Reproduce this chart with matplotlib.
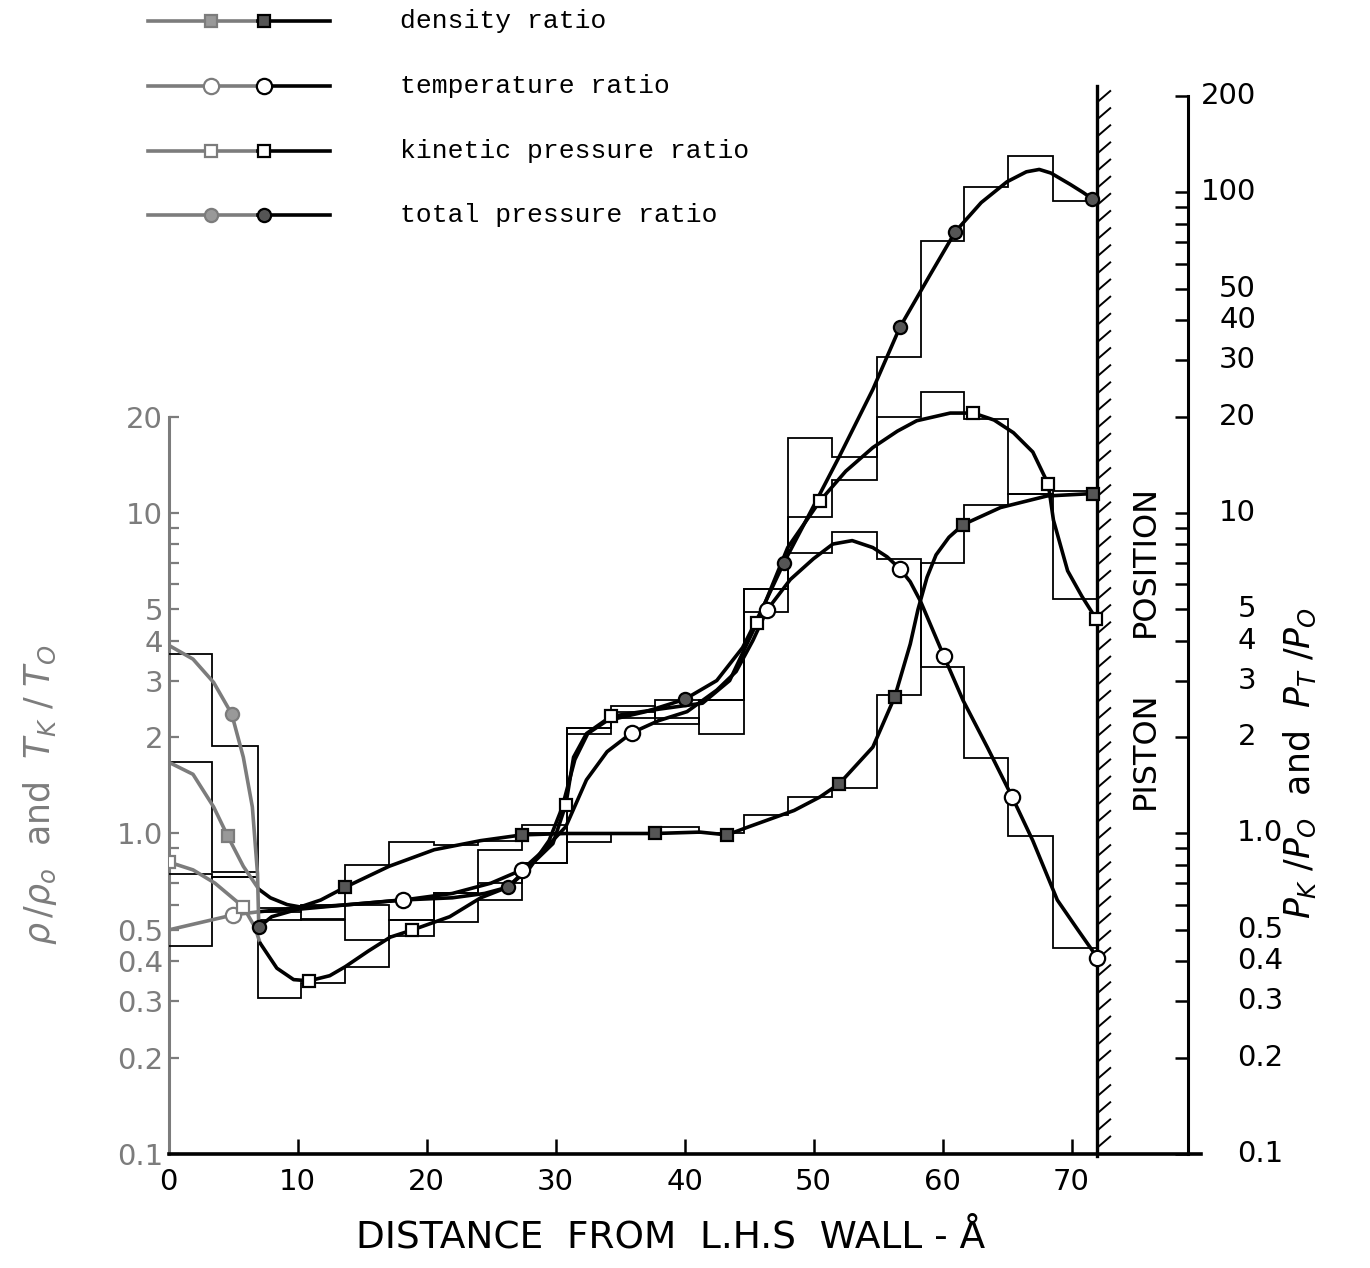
"""
Piston compression profiles: density, temperature and pressure ratios
against distance from the left-hand wall (log scale, step histograms + fitted curves)
"""
import matplotlib
matplotlib.use('Agg')
import matplotlib.pyplot as plt
import numpy as np
from matplotlib.lines import Line2D
from matplotlib.ticker import NullFormatter, NullLocator
from matplotlib.transforms import blended_transform_factory

# ---- data ---------------------------------------------------------------
bin_edges = [0, 3.4, 6.9, 10.3, 13.7, 17.1, 20.6, 24.0, 27.4, 30.9, 34.3,
             37.7, 41.1, 44.6, 48.0, 51.4, 54.9, 58.3, 61.7, 65.1, 68.6, 72.0]

density_hist = [1.67, 0.76, 0.57, 0.60, 0.80, 0.94, 0.92, 0.95, 1.06, 0.94, 1.0,
                1.05, 1.0, 1.14, 1.30, 1.39, 2.7, 7.0, 10.6, 11.5, 11.7]
temp_hist = [0.446, 0.73, 0.537, 0.54, 0.60, 0.537, 0.65, 0.70, 0.81, 2.13, 2.4,
             2.2, 2.6, 5.8, 7.5, 8.7, 7.2, 3.3, 1.72, 0.98, 0.44]
kinetic_hist = [0.75, 0.73, 0.307, 0.341, 0.384, 0.48, 0.53, 0.62, 0.81, 2.05, 2.5,
                2.3, 2.05, 4.9, 9.7, 12.7, 20.0, 23.8, 19.7, 11.5, 5.4]
total_hist = [3.63, 1.88, 0.585, 0.537, 0.465, 0.537, 0.65, 0.89, 1.0, 2.13, 2.3,
              2.6, 2.6, 5.8, 17.1, 14.9, 30.7, 70.4, 104, 130, 94]

density_x = [0, 1.9, 3.5, 4.6, 5.8, 7.0, 7.9, 9.2, 10.2, 11.8, 13.7, 17.1, 20.6,
             24.2, 27.4, 30.8, 34.3, 37.7, 41.2, 43.3, 45.0, 48.5, 50.5, 52.0,
             54.6, 56.3, 57.5, 58.1, 58.8, 59.5, 60.5, 61.6, 64.5, 68.1, 71.7]
density_y = [1.67, 1.53, 1.21, 0.98, 0.79, 0.67, 0.63, 0.60, 0.59, 0.62, 0.68, 0.79,
             0.89, 0.95, 0.99, 1.0, 1.0, 1.0, 1.01, 0.99, 1.05, 1.18, 1.3, 1.43,
             1.86, 2.67, 3.9, 5.0, 6.3, 7.4, 8.4, 9.2, 10.4, 11.3, 11.5]

temp_x = [0, 5.0, 7.0, 10.0, 14.0, 18.2, 22.0, 25.0, 27.4, 29.0, 30.8, 32.4, 34.0,
          35.9, 38.0, 40.2, 42.5, 44.0, 45.3, 46.4, 48.2, 50.0, 51.5, 53.0, 54.6,
          55.7, 56.7, 57.5, 58.3, 60.1, 61.6, 63.5, 65.4, 67.0, 68.9, 70.5, 72.0]
temp_y = [0.50, 0.557, 0.57, 0.585, 0.60, 0.62, 0.65, 0.70, 0.77, 0.88, 1.05, 1.47,
          1.8, 2.06, 2.25, 2.4, 2.8, 3.2, 4.0, 4.98, 6.2, 7.2, 8.0, 8.2, 7.8,
          7.3, 6.7, 6.1, 5.3, 3.58, 2.6, 1.85, 1.30, 0.95, 0.62, 0.50, 0.41]

kinetic_x = [0, 1.9, 3.6, 5.8, 6.7, 7.1, 8.4, 9.7, 10.9, 12.5, 13.7, 15.5, 17.2,
             18.9, 21.8, 24.2, 26.3, 27.4, 28.8, 29.8, 30.8, 31.4, 32.4, 34.3,
             37.6, 41.4, 43.5, 45.6, 48.0, 50.5, 52.5, 54.6, 56.5, 58.0, 60.6,
             62.4, 64.0, 65.5, 67.0, 68.2, 68.6, 69.7, 70.8, 71.9]
kinetic_y = [0.815, 0.77, 0.70, 0.59, 0.51, 0.455, 0.38, 0.35, 0.347, 0.36, 0.384,
             0.43, 0.475, 0.50, 0.55, 0.63, 0.68, 0.75, 0.85, 0.93, 1.23, 1.73,
             2.05, 2.32, 2.43, 2.55, 3.0, 4.53, 7.8, 10.9, 13.5, 16.0, 18.0, 19.4,
             20.5, 20.5, 19.5, 17.8, 15.5, 12.3, 9.5, 6.6, 5.5, 4.68]

total_x = [0, 1.9, 3.5, 4.9, 5.8, 6.5, 6.9, 7.0, 8.0, 10.0, 14.0, 18.0, 22.0, 24.5,
           26.3, 28.0, 29.5, 30.5, 31.5, 32.5, 34.0, 37.0, 40.0, 42.5, 44.5, 46.0,
           47.7, 50.0, 52.0, 54.6, 56.7, 59.0, 61.0, 63.0, 65.0, 66.5, 67.5, 68.4,
           69.9, 70.9, 71.6]
total_y = [3.87, 3.5, 2.96, 2.36, 1.73, 1.21, 0.75, 0.51, 0.55, 0.58, 0.60, 0.62,
           0.63, 0.65, 0.68, 0.78, 0.95, 1.2, 1.7, 2.05, 2.25, 2.4, 2.62, 3.0, 3.8,
           5.0, 6.99, 10.5, 15.0, 24.3, 38.0, 55.0, 75.5, 93, 108, 116, 118, 115,
           106, 100, 95.6]

density_mx = [4.6, 13.7, 27.4, 37.7, 43.3, 52.0, 56.3, 61.6, 71.7]
density_my = [0.98, 0.68, 0.99, 1.0, 0.99, 1.43, 2.67, 9.2, 11.5]
temp_mx = [5.0, 18.2, 27.4, 35.9, 46.4, 56.7, 60.1, 65.4, 72.0]
temp_my = [0.557, 0.62, 0.77, 2.06, 4.98, 6.7, 3.58, 1.30, 0.41]
kinetic_mx = [0, 5.8, 10.9, 18.9, 30.8, 34.3, 45.6, 50.5, 62.4, 68.2, 71.9]
kinetic_my = [0.815, 0.59, 0.347, 0.50, 1.23, 2.32, 4.53, 10.9, 20.5, 12.3, 4.68]
total_mx = [4.9, 7.0, 26.3, 40.0, 47.7, 56.7, 61.0, 71.6]
total_my = [2.36, 0.51, 0.68, 2.62, 6.99, 38.0, 75.5, 95.6]

x_ticks = [0, 10, 20, 30, 40, 50, 60, 70]
left_major = [0.1, 0.2, 0.3, 0.4, 0.5, 1, 2, 3, 4, 5, 10, 20]
left_labels = ['0.1', '0.2', '0.3', '0.4', '0.5', '1.0', '2', '3', '4', '5', '10', '20']
left_minor = [0.6, 0.7, 0.8, 0.9, 6, 7, 8, 9]
right_major = [0.1, 0.2, 0.3, 0.4, 0.5, 1, 2, 3, 4, 5, 10, 20, 30, 40, 50, 100, 200]
right_labels = ['0.1', '0.2', '0.3', '0.4', '0.5', '1.0', '2', '3', '4', '5', '10',
                '20', '30', '40', '50', '100', '200']
right_minor = [0.6, 0.7, 0.8, 0.9, 6, 7, 8, 9, 60, 70, 80, 90]

legend_labels = ['density ratio', 'temperature ratio',
                 'kinetic pressure ratio', 'total pressure ratio']

# ---- style -----------------------------------------------------------------
GRAY = '#7c7c7c'
SPLIT = 7.0          # curves are drawn grey left of this, black after
WALL = 72.0
W, H = 1370, 1268


def fx(px):
    return px / W


def fy(py):
    return 1 - py / H


STYLES = {
    'density': dict(marker='s', ms=8, filled=True),
    'temp': dict(marker='o', ms=11, filled=False),
    'kinetic': dict(marker='s', ms=8, filled=False),
    'total': dict(marker='o', ms=9.5, filled=True),
}


def marker_kw(style, col):
    face = ('#555555' if col == 'k' else '#999999') if style['filled'] else 'white'
    return dict(marker=style['marker'], ms=style['ms'], mfc=face, mec=col, mew=1.6,
                ls='none')


def draw_curve(ax, xs, ys, mx, my, style):
    xs = np.asarray(xs, float)
    ys = np.asarray(ys, float)
    k = int(np.argmax(xs >= SPLIT))
    ax.plot(xs[:k + 1], ys[:k + 1], color=GRAY, lw=2.6, zorder=4,
            solid_capstyle='round', solid_joinstyle='round')
    ax.plot(xs[k:], ys[k:], color='k', lw=2.6, zorder=4, solid_capstyle='round',
            solid_joinstyle='round')
    mx = np.asarray(mx, float)
    my = np.asarray(my, float)
    g = mx < SPLIT
    ax.plot(mx[g], my[g], zorder=6, **marker_kw(style, GRAY))
    ax.plot(mx[~g], my[~g], zorder=6, **marker_kw(style, 'k'))


fig = plt.figure(figsize=(13.7, 12.68), dpi=100)
ax = fig.add_axes([fx(168.5), fy(1154), (1200.5 - 168.5) / W, 1058 / H])
ax.set_xlim(0, 80)
ax.set_yscale('log')
ax.set_ylim(0.1, 200)

# step histograms
for h in [density_hist, temp_hist, kinetic_hist, total_hist]:
    ax.stairs(h, bin_edges, baseline=None, color='k', lw=1.3, zorder=3)

draw_curve(ax, density_x, density_y, density_mx, density_my, STYLES['density'])
draw_curve(ax, temp_x, temp_y, temp_mx, temp_my, STYLES['temp'])
draw_curve(ax, kinetic_x, kinetic_y, kinetic_mx, kinetic_my, STYLES['kinetic'])
draw_curve(ax, total_x, total_y, total_mx, total_my, STYLES['total'])

# piston wall with hatching
tr = blended_transform_factory(ax.transData, ax.transAxes)
ax.plot([WALL, WALL], [-0.002, 1.009], transform=tr, color='k', lw=2.4,
        clip_on=False, zorder=5)
for f in np.arange(0.006, 0.995, 0.0162):
    ax.plot([WALL, WALL + 1.0], [f, f + 0.0105], transform=tr, color='k', lw=1.4,
            clip_on=False, zorder=5)

# left axis (grey)
for s in ['top', 'right']:
    ax.spines[s].set_visible(False)
ax.spines['left'].set_bounds(0.1, 20)
ax.spines['left'].set_color(GRAY)
ax.spines['left'].set_linewidth(2.2)
ax.spines['bottom'].set_linewidth(2.6)
ax.set_yticks(left_major)
ax.set_yticklabels(left_labels)
ax.set_yticks(left_minor, minor=True)
ax.yaxis.set_minor_formatter(NullFormatter())
ax.tick_params(axis='y', which='both', direction='in', length=7, width=1.6,
               color=GRAY, labelcolor=GRAY, labelsize=21, pad=4)
ax.set_xticks(x_ticks)
ax.set_xticklabels([str(t) for t in x_ticks])
ax.xaxis.set_minor_locator(NullLocator())
ax.tick_params(axis='x', direction='in', length=11, width=1.8, labelsize=21, pad=10)

# right axis (black)
ax2 = ax.twinx()
ax2.set_yscale('log')
ax2.set_ylim(0.1, 200)
for s in ['top', 'left', 'bottom']:
    ax2.spines[s].set_visible(False)
ax2.spines['right'].set_position(('data', 79))
ax2.spines['right'].set_linewidth(2.2)
ax2.set_yticks(right_major)
ax2.set_yticklabels([])
ax2.set_yticks(right_minor, minor=True)
ax2.yaxis.set_minor_formatter(NullFormatter())
ax2.tick_params(axis='y', which='both', direction='in', length=9.5, width=1.8)
rt = blended_transform_factory(fig.transFigure, ax2.transData)
for v, lab in zip(right_major, right_labels):
    if '.' in lab:
        ax2.text(fx(1237), v, lab, transform=rt, ha='left', va='center', fontsize=21)
    else:
        ax2.text(fx(1256), v, lab, transform=rt, ha='right', va='center', fontsize=21)

# axis titles
fig.text(fx(671), fy(1237), 'DISTANCE  FROM  L.H.S  WALL - Å', ha='center',
         va='center', fontsize=27)
fig.text(fx(40), fy(795), r'$\rho\,/\rho_o$  and  $T_K$ / $T_O$', rotation=90,
         ha='center', va='center', fontsize=25, color=GRAY)
fig.text(fx(1300), fy(763), r'$P_K$ /$P_O$  and  $P_T$ /$P_O$', rotation=90,
         ha='center', va='center', fontsize=25)
fig.text(fx(1145), fy(750), 'PISTON', rotation=90, ha='center', va='center',
         fontsize=23)
fig.text(fx(1145), fy(561), 'POSITION', rotation=90, ha='center', va='center',
         fontsize=23)

# hand-drawn legend, top left
legend_rows = [21, 86, 151, 215]
for row, lab, key in zip(legend_rows, legend_labels,
                         ['density', 'temp', 'kinetic', 'total']):
    yy = fy(row)
    fig.add_artist(Line2D([fx(148), fx(258)], [yy, yy], color=GRAY, lw=2.6))
    fig.add_artist(Line2D([fx(258), fx(330)], [yy, yy], color='k', lw=2.6))
    fig.add_artist(Line2D([fx(211)], [yy], **marker_kw(STYLES[key], GRAY)))
    fig.add_artist(Line2D([fx(264)], [yy], **marker_kw(STYLES[key], 'k')))
    fig.text(fx(400), yy, lab, ha='left', va='center', fontsize=19,
             family='Liberation Mono')

fig.savefig('out.png', dpi=100, facecolor='white')
